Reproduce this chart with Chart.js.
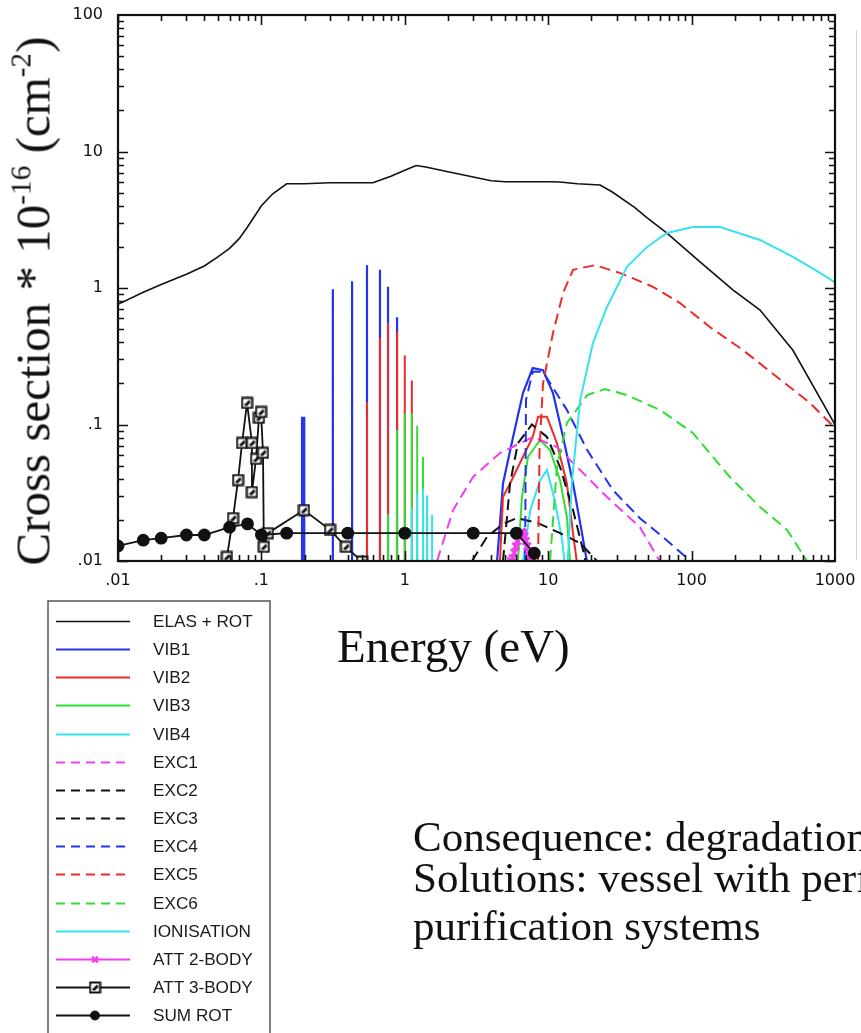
<!DOCTYPE html>
<html>
<head>
<meta charset="UTF-8">
<title>Cross sections</title>
<script src="https://cdn.jsdelivr.net/npm/chart.js"></script>
<style>
  body { margin: 0; width: 861px; height: 1033px; overflow: hidden; position: relative; background: #fff; }
  #chart { position: absolute; left: 0; top: 0; }
  .serif { position: absolute; font-family: "Liberation Serif", "Times New Roman", serif; color: #111; white-space: nowrap; line-height: 1; }
  #ytitle { left: 33px; top: 301px; font-size: 49px; transform: translate(-50%, -50%) rotate(-90deg); }
  #ytitle sup { font-size: 0.6em; vertical-align: 0.65em; line-height: 0; }
  #xtitle { left: 337px; top: 623px; font-size: 47px; }
  .note { left: 413px; font-size: 43px; }
  #edge { position: absolute; left: 856px; top: 30px; width: 1px; height: 530px; background: #d8d8d8; }
</style>
</head>
<body>
<canvas id="chart" width="861" height="1033"></canvas>
<div id="edge"></div>
<div id="ytitle" class="serif">Cross section * 10<sup>-16</sup> (cm<sup>-2</sup>)</div>
<div id="xtitle" class="serif">Energy (eV)</div>
<div class="serif note" style="top:815px">Consequence: degradation</div>
<div class="serif note" style="top:856px">Solutions: vessel with perf</div>
<div class="serif note" style="top:904px">purification systems</div>
<script>
// energies in eV, cross sections in 1e-16 cm^2
var elasE = [0.01, 0.015, 0.02, 0.03, 0.04, 0.05, 0.06, 0.07, 0.08, 0.1, 0.12, 0.15, 0.2, 0.3, 0.6, 0.8, 1.0, 1.2, 1.4, 2, 3, 4, 5, 10, 12, 16, 23, 28, 40, 49, 67, 115, 194, 300, 509, 1000];
var elasS = [0.76, 0.93, 1.06, 1.26, 1.45, 1.7, 1.95, 2.3, 2.8, 4.0, 4.9, 5.8, 5.8, 5.9, 5.9, 6.6, 7.3, 7.9, 7.7, 7.1, 6.5, 6.1, 6.0, 6.0, 5.98, 5.8, 5.68, 5.05, 3.9, 3.26, 2.53, 1.55, 0.97, 0.69, 0.35, 0.1];

// vibrational lines below 2 eV (null = no line for that level)
var lineE = [0.192, 0.199, 0.315, 0.429, 0.545, 0.671, 0.764, 0.883, 1.0, 1.12, 1.22, 1.34, 1.43, 1.55];
var vib1Lines = [0.114, 0.114, 0.98, 1.12, 1.47, 1.36, 1.02, 0.61, null, null, null, null, null, null];
var vib2Lines = [null, null, null, null, 0.146, 0.43, 0.55, 0.48, 0.32, 0.21, null, null, null, null];
var vib3Lines = [null, null, null, null, null, null, 0.022, 0.091, 0.121, 0.121, 0.098, 0.058, 0.030, null];
var vib4Lines = [null, null, null, null, null, null, null, null, null, 0.024, 0.0315, 0.034, 0.030, 0.0217];

// resonance region
var vib1E = [4.4, 4.84, 5.69, 6.67, 7.8, 9.2, 10.8, 12.7, 14.9, 17.2, 18.6];
var vib1S = [0.01, 0.037, 0.081, 0.17, 0.259, 0.25, 0.17, 0.081, 0.037, 0.016, 0.01];
var vib2E = [4.61, 4.84, 5.42, 6.67, 7.8, 8.5, 9.8, 11.5, 13.5, 14.9, 15.8];
var vib2S = [0.01, 0.0294, 0.037, 0.058, 0.081, 0.114, 0.114, 0.073, 0.037, 0.016, 0.01];
var vib3E = [6.15, 6.56, 7.23, 8.77, 10.3, 12.1, 13.5, 14.2];
var vib3S = [0.01, 0.0294, 0.058, 0.077, 0.065, 0.039, 0.021, 0.01];
var vib4E = [6.67, 7.5, 8.77, 9.8, 11.1, 12.5, 13.0];
var vib4S = [0.01, 0.0236, 0.039, 0.0464, 0.028, 0.0143, 0.01];

var exc1E = [1.68, 2.17, 2.99, 4.61, 7.83, 11.5, 16.7, 25.7, 43.6, 60];
var exc1S = [0.01, 0.0236, 0.0412, 0.0618, 0.081, 0.0684, 0.0464, 0.0294, 0.0177, 0.01];
var exc2E = [4.84, 5.42, 6.15, 7.7, 9.8, 12.1, 14.9, 17.5, 18.2];
var exc2S = [0.01, 0.037, 0.073, 0.1, 0.081, 0.0488, 0.0236, 0.012, 0.01];
var exc3E = [2.94, 3.74, 4.84, 6.05, 8.4, 12.1, 16.7, 21.9];
var exc3S = [0.01, 0.015, 0.0187, 0.0206, 0.019, 0.016, 0.0135, 0.01];
var exc4E = [6.9, 7.0, 7.8, 9.2, 13.5, 18.7, 28.3, 43.6, 63, 93, 98];
var exc4S = [0.01, 0.151, 0.243, 0.243, 0.128, 0.065, 0.033, 0.0206, 0.015, 0.0105, 0.01];
var exc5E = [8.5, 8.7, 9.2, 10.8, 12.7, 14.9, 21.2, 31.6, 53.8, 83, 134, 228, 394, 669, 1000];
var exc5S = [0.01, 0.065, 0.2, 0.468, 0.92, 1.36, 1.47, 1.29, 1.02, 0.776, 0.518, 0.351, 0.223, 0.144, 0.094];
var exc6E = [10.3, 11.5, 13.5, 18.7, 24.9, 35.4, 60.2, 102, 185, 300, 463, 638];
var exc6S = [0.01, 0.0488, 0.1025, 0.164, 0.182, 0.164, 0.128, 0.0867, 0.0412, 0.0249, 0.0169, 0.01];

var ionE = [13.7, 14.6, 16.7, 20.5, 25.7, 35.4, 48.9, 67.3, 102, 158, 300, 509, 785, 1000];
var ionS = [0.01, 0.037, 0.151, 0.395, 0.726, 1.43, 2.0, 2.53, 2.8, 2.8, 2.25, 1.69, 1.29, 1.1];

var att2E = [5.5, 5.65, 5.8, 5.95, 6.1, 6.25, 6.4, 6.55, 6.7, 6.85, 7.0, 7.15, 7.3, 7.45, 7.6];
var att2S = [0.010, 0.0105, 0.0115, 0.0128, 0.014, 0.0152, 0.016, 0.0165, 0.016, 0.0152, 0.014, 0.0128, 0.0117, 0.0108, 0.010];
var att3E = [0.0575, 0.0634, 0.0687, 0.0733, 0.0794, 0.0859, 0.0859, 0.0917, 0.0962, 0.0994, 0.1026, 0.104, 0.111, 0.198, 0.301, 0.389, 0.503];
var att3S = [0.0107, 0.0206, 0.0392, 0.0732, 0.144, 0.0732, 0.032, 0.056, 0.112, 0.1235, 0.062, 0.0127, 0.016, 0.0236, 0.0169, 0.0127, 0.0099];
var rotE = [0.01, 0.015, 0.02, 0.03, 0.04, 0.06, 0.08, 0.1, 0.15, 0.4, 1.0, 3.0, 6.0, 8.0];
var rotS = [0.0129, 0.0142, 0.0147, 0.0155, 0.0155, 0.0177, 0.0187, 0.0155, 0.016, 0.016, 0.016, 0.016, 0.016, 0.0114];

var xTickLabels = ['.01', '.1', '1', '10', '100', '1000'];
var yTickLabels = ['.01', '.1', '1', '10', '100'];

function pts(e, s) {
    return e.map(function (v, i) { return { x: v, y: s[i] }; });
}

// each line goes up from the axis floor and back down
function lines(values) {
    var out = [];
    lineE.forEach(function (e, i) {
        if (values[i] == null) return;
        out.push({ x: e, y: 0.01 }, { x: e, y: values[i] }, { x: e, y: 0.01 });
    });
    return out;
}

// open square with a slash, for the three-body attachment points
var squareMark = document.createElement('canvas');
squareMark.width = 13;
squareMark.height = 13;
(function () {
    var c = squareMark.getContext('2d');
    c.fillStyle = '#fff';
    c.fillRect(1, 1, 11, 11);
    c.strokeStyle = '#111';
    c.lineWidth = 2;
    c.strokeRect(1.5, 1.5, 10, 10);
    c.lineWidth = 1.5;
    c.beginPath();
    c.moveTo(4, 9);
    c.lineTo(9, 4);
    c.moveTo(5.5, 9.5);
    c.lineTo(9.5, 5.5);
    c.stroke();
})();

var BLACK = '#111', BLUE = '#2233ee', RED = '#ee2b2b', GREEN = '#33dd33', CYAN = '#35e3ef', MAGENTA = '#f23cf2';
var DASH = [11, 6];

var datasets = [
    { label: 'ELAS + ROT', data: pts(elasE, elasS), borderColor: BLACK, borderWidth: 1.6 },
    { label: 'VIB1', data: lines(vib1Lines).concat(pts(vib1E, vib1S)), borderColor: BLUE, borderWidth: 2.2 },
    { label: 'VIB2', data: lines(vib2Lines).concat(pts(vib2E, vib2S)), borderColor: RED, borderWidth: 2 },
    { label: 'VIB3', data: lines(vib3Lines).concat(pts(vib3E, vib3S)), borderColor: GREEN, borderWidth: 2 },
    { label: 'VIB4', data: lines(vib4Lines).concat(pts(vib4E, vib4S)), borderColor: CYAN, borderWidth: 2 },
    { label: 'EXC1', data: pts(exc1E, exc1S), borderColor: MAGENTA, borderWidth: 2, borderDash: DASH },
    { label: 'EXC2', data: pts(exc2E, exc2S), borderColor: BLACK, borderWidth: 2, borderDash: DASH },
    { label: 'EXC3', data: pts(exc3E, exc3S), borderColor: BLACK, borderWidth: 2, borderDash: DASH },
    { label: 'EXC4', data: pts(exc4E, exc4S), borderColor: BLUE, borderWidth: 2, borderDash: DASH },
    { label: 'EXC5', data: pts(exc5E, exc5S), borderColor: RED, borderWidth: 2, borderDash: DASH },
    { label: 'EXC6', data: pts(exc6E, exc6S), borderColor: GREEN, borderWidth: 2, borderDash: DASH },
    { label: 'IONISATION', data: pts(ionE, ionS), borderColor: CYAN, borderWidth: 2 },
    { label: 'ATT 2-BODY', data: pts(att2E, att2S), borderColor: MAGENTA, borderWidth: 1.8,
      pointStyle: 'crossRot', pointRadius: 5, pointBorderWidth: 2.4, pointBorderColor: MAGENTA },
    { label: 'ATT 3-BODY', data: pts(att3E, att3S), borderColor: BLACK, borderWidth: 1.8,
      pointStyle: squareMark, pointRadius: 6 },
    { label: 'SUM ROT', data: pts(rotE, rotS), borderColor: BLACK, borderWidth: 1.8,
      pointStyle: 'circle', pointRadius: 5.5, pointBackgroundColor: BLACK, pointBorderColor: BLACK }
];
datasets.forEach(function (d, i) {
    d.order = -i;              // later series painted on top
    d.fill = false;
    d.tension = 0;
    if (d.pointRadius === undefined) d.pointRadius = 0;
});

function isDecade(v) {
    var l = Math.log10(v);
    return Math.abs(l - Math.round(l)) < 1e-6;
}

// frame with inward ticks on all four sides
var frameTicks = {
    id: 'frameTicks',
    afterDatasetsDraw: function (chart) {
        var ctx = chart.ctx, a = chart.chartArea, xs = chart.scales.x, ys = chart.scales.y;
        ctx.save();
        ctx.strokeStyle = BLACK;
        ctx.lineWidth = 1.6;
        ctx.beginPath();
        for (var d = -2; d <= 2; d++) {
            for (var m = 1; m <= 9; m++) {
                var v = m * Math.pow(10, d);
                if (v > 1000) break;
                var len = m === 1 ? 10 : 6;
                var px = Math.round(xs.getPixelForValue(v)) + 0.5;
                ctx.moveTo(px, a.bottom); ctx.lineTo(px, a.bottom - len);
                ctx.moveTo(px, a.top); ctx.lineTo(px, a.top + len);
                if (d <= 1) {
                    var py = Math.round(ys.getPixelForValue(v)) + 0.5;
                    ctx.moveTo(a.left, py); ctx.lineTo(a.left + len, py);
                    ctx.moveTo(a.right, py); ctx.lineTo(a.right - len, py);
                }
            }
        }
        ctx.stroke();
        ctx.lineWidth = 2.2;
        ctx.strokeRect(a.left, a.top, a.right - a.left, a.bottom - a.top);
        ctx.restore();
    }
};

// boxed key below the plot, built from the datasets
var keyBox = {
    id: 'keyBox',
    afterDraw: function (chart) {
        var ctx = chart.ctx;
        var left = 48, top = 601, rowTop = 621, rowStep = 28.15;
        ctx.save();
        ctx.strokeStyle = '#555';
        ctx.lineWidth = 1.5;
        ctx.strokeRect(left, top, 222, 460);
        ctx.font = '16.5px "Liberation Sans", Arial, sans-serif';
        ctx.textBaseline = 'middle';
        chart.data.datasets.forEach(function (d, i) {
            var y = Math.round(rowTop + i * rowStep) + 0.5;
            ctx.strokeStyle = d.borderColor;
            ctx.lineWidth = d.borderWidth;
            ctx.setLineDash(d.borderDash ? [9, 6] : []);
            ctx.beginPath();
            ctx.moveTo(56, y);
            ctx.lineTo(d.borderDash ? 125 : 130, y);
            ctx.stroke();
            ctx.setLineDash([]);
            if (d.pointRadius) {
                ctx.fillStyle = d.pointBackgroundColor || d.borderColor;
                ctx.strokeStyle = d.pointBorderColor || d.borderColor;
                ctx.lineWidth = d.pointBorderWidth || 1;
                Chart.helpers.drawPoint(ctx, {
                    pointStyle: d.pointStyle, radius: d.pointStyle === 'circle' ? 4.5 : 4,
                    rotation: 0, borderWidth: d.pointBorderWidth || 1
                }, 95, y);
            }
            ctx.fillStyle = '#1a1a1a';
            ctx.save();
            ctx.translate(153, y + 1);
            ctx.scale(1.04, 1);
            ctx.fillText(d.label, 0, 0);
            ctx.restore();
        });
        ctx.restore();
    }
};

var tickFont = { family: '"DejaVu Sans", sans-serif', size: 16 };
// invisible tick marks only set the gap between axis and labels
function hiddenGrid(len) {
    return { display: true, drawOnChartArea: false, drawTicks: true, tickLength: len, color: 'rgba(0,0,0,0)' };
}

new Chart(document.getElementById('chart'), {
    type: 'line',
    data: { datasets: datasets },
    options: {
        responsive: false,
        animation: false,
        devicePixelRatio: 1,
        layout: { padding: { left: 0, top: 15, right: 26, bottom: 0 } },
        plugins: { legend: { display: false }, tooltip: { enabled: false } },
        scales: {
            x: {
                type: 'logarithmic', min: 0.01, max: 1000,
                grid: hiddenGrid(10),
                border: { display: false },
                ticks: {
                    autoSkip: false, maxRotation: 0, padding: 0, color: '#111', font: tickFont,
                    callback: function (v) {
                        return isDecade(v) ? xTickLabels[Math.round(Math.log10(v)) + 2] : '';
                    }
                },
                afterFit: function (s) { s.height = 472; }
            },
            y: {
                type: 'logarithmic', min: 0.01, max: 100,
                grid: hiddenGrid(15),
                border: { display: false },
                ticks: {
                    autoSkip: false, padding: 0, color: '#111', font: tickFont,
                    callback: function (v) {
                        return isDecade(v) ? yTickLabels[Math.round(Math.log10(v)) + 2] : '';
                    }
                },
                afterFit: function (s) { s.width = 118; }
            }
        }
    },
    plugins: [frameTicks, keyBox]
});
</script>
</body>
</html>
